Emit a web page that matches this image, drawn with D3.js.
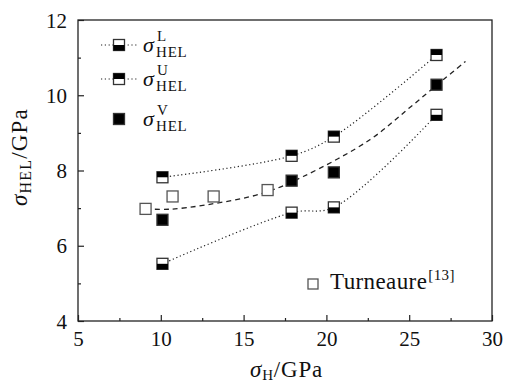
<!DOCTYPE html>
<html><head><meta charset="utf-8">
<script src="https://cdn.jsdelivr.net/npm/d3@7"></script>
<style>
html,body{margin:0;padding:0;background:#fff;}
svg text{font-family:"Liberation Serif","DejaVu Serif","Noto Serif",serif;fill:#111;}
</style></head>
<body><svg id="c" width="510" height="383"></svg>
<script>
// ---- data ----
const xVals = [10.1, 17.9, 20.45, 26.65];
const upperY = [7.82, 8.39, 8.90, 11.07];   // sigma_HEL^U (top half black)
const lowerY = [5.52, 6.88, 7.02, 9.48];    // sigma_HEL^L (bottom half black)
const vY     = [6.69, 7.73, 7.95, 10.28];   // sigma_HEL^V (filled)
const turnX  = [9.08, 10.71, 13.19, 16.45]; // Turneaure
const turnY  = [6.98, 7.31, 7.31, 7.48];
const fitX   = [9.1, 10.5, 12.8, 16.2, 18.6, 22.6, 25.0, 27.05, 28.4]; // dashed fit curve
const fitY   = [6.98, 6.97, 7.09, 7.40, 7.84, 8.81, 9.66, 10.41, 10.90];
const xTicks = [5, 10, 15, 20, 25, 30];
const yTicks = [4, 6, 8, 10, 12];
const xMinor = [7.5, 12.5, 17.5, 22.5, 27.5];
const yMinor = [5, 7, 9, 11];

// ---- layout ----
const L = 78, R = 492, T = 20, B = 321;
const FONT = '"Liberation Serif","DejaVu Serif","Noto Serif",serif';
const svg = d3.select("#c");
const x = d3.scaleLinear().domain([5, 30]).range([L, R]);
const y = d3.scaleLinear().domain([4, 12]).range([B, T]);
const axisCol = "#222";

// frame
svg.append("rect").attr("x", L).attr("y", T).attr("width", R - L).attr("height", B - T)
  .attr("fill", "none").attr("stroke", axisCol).attr("stroke-width", 1.3);

// bottom axis
const xa = svg.append("g").attr("transform", `translate(0,${B})`)
  .call(d3.axisBottom(x).tickValues(xTicks).tickSize(-6).tickFormat(d3.format("d")));
xa.attr("font-family", FONT);
xa.select(".domain").remove();
xa.selectAll("line").attr("stroke", axisCol).attr("stroke-width", 1.2);
xa.selectAll("text").attr("font-size", 21).attr("fill", "#111").attr("y", 25).attr("dy", 0);
svg.append("g").attr("transform", `translate(0,${B})`)
  .call(d3.axisBottom(x).tickValues(xMinor).tickSize(-3).tickFormat(""))
  .call(g => { g.select(".domain").remove(); g.selectAll("line").attr("stroke", axisCol).attr("stroke-width", 1.2); });

// left axis
const ya = svg.append("g").attr("transform", `translate(${L},0)`)
  .call(d3.axisLeft(y).tickValues(yTicks).tickSize(-6).tickFormat(d3.format("d")));
ya.attr("font-family", FONT);
ya.select(".domain").remove();
ya.selectAll("line").attr("stroke", axisCol).attr("stroke-width", 1.2);
ya.selectAll("text").attr("font-size", 21).attr("fill", "#111").attr("x", -11).attr("dy", 7);
svg.append("g").attr("transform", `translate(${L},0)`)
  .call(d3.axisLeft(y).tickValues(yMinor).tickSize(-3).tickFormat(""))
  .call(g => { g.select(".domain").remove(); g.selectAll("line").attr("stroke", axisCol).attr("stroke-width", 1.2); });

// axis titles
const xt = svg.append("text").attr("x", 250).attr("y", 377).attr("font-size", 23).attr("letter-spacing", 0.8);
xt.append("tspan").attr("font-style", "italic").text("σ");
xt.append("tspan").attr("font-size", 15).attr("dy", 3).text("H");
xt.append("tspan").attr("dy", -3).text("/GPa");

const yt = svg.append("text").attr("transform", "translate(27,157) rotate(-90)")
  .attr("text-anchor", "middle").attr("font-size", 23).attr("letter-spacing", 1.2);
yt.append("tspan").attr("font-style", "italic").text("σ");
yt.append("tspan").attr("font-size", 16).attr("dy", 4).text("HEL");
yt.append("tspan").attr("dy", -4).text("/GPa");

// lines
const line = d3.line().x(d => x(d[0])).y(d => y(d[1])).curve(d3.curveCatmullRom.alpha(0.5));
const upPts = xVals.map((v, i) => [v, upperY[i]]);
const loPts = xVals.map((v, i) => [v, lowerY[i]]);
const fitPts = fitX.map((v, i) => [v, fitY[i]]);
[upPts, loPts].forEach(p => svg.append("path").attr("d", line(p)).attr("fill", "none")
  .attr("stroke", "#222").attr("stroke-width", 1.2).attr("stroke-dasharray", "1.2,2.6"));
svg.append("path").attr("d", line(fitPts)).attr("fill", "none")
  .attr("stroke", "#222").attr("stroke-width", 1.3).attr("stroke-dasharray", "5,4");

// markers
const S = 11;
function marker(g, cx, cy, kind, size) {
  const s = size || S;
  g.append("rect").attr("x", cx - s / 2).attr("y", cy - s / 2).attr("width", s).attr("height", s)
    .attr("fill", kind === "full" ? "#000" : "#fff").attr("stroke", kind === "open" ? "#555" : "#333").attr("stroke-width", 1.3);
  if (kind === "top") g.append("rect").attr("x", cx - s / 2).attr("y", cy - s / 2).attr("width", s).attr("height", s / 2).attr("fill", "#000");
  if (kind === "bottom") g.append("rect").attr("x", cx - s / 2).attr("y", cy).attr("width", s).attr("height", s / 2).attr("fill", "#000");
}
const mg = svg.append("g");
turnX.forEach((v, i) => marker(mg, x(v), y(turnY[i]), "open"));
xVals.forEach((v, i) => marker(mg, x(v), y(upperY[i]), "top"));
xVals.forEach((v, i) => marker(mg, x(v), y(lowerY[i]), "bottom"));
xVals.forEach((v, i) => marker(mg, x(v), y(vY[i]), "full"));

// legend
const lg = svg.append("g");
const legendRows = [
  {cy: 45, kind: "bottom", sup: "L", line: true},
  {cy: 79, kind: "top", sup: "U", line: true},
  {cy: 119, kind: "full", sup: "V", line: false}
];
legendRows.forEach(r => {
  if (r.line) lg.append("line").attr("x1", 101).attr("x2", 137).attr("y1", r.cy).attr("y2", r.cy)
    .attr("stroke", "#222").attr("stroke-width", 1.2).attr("stroke-dasharray", "1.2,2.6");
  marker(lg, 119, r.cy, r.kind);
  lg.append("text").attr("x", 143).attr("y", r.cy + 7).attr("font-size", 22).attr("font-style", "italic").text("σ");
  lg.append("text").attr("x", 157).attr("y", r.cy - 4).attr("font-size", 15).text(r.sup);
  lg.append("text").attr("x", 156).attr("y", r.cy + 12).attr("font-size", 15).attr("letter-spacing", 0.8).text("HEL");
});
marker(lg, 313, 284, "open", 10);
const tt = lg.append("text").attr("x", 330).attr("y", 289).attr("font-size", 23).attr("letter-spacing", 0.4);
tt.append("tspan").text("Turneaure");
tt.append("tspan").attr("font-size", 15).attr("dy", -9).attr("dx", 1).text("[13]");
</script></body></html>
